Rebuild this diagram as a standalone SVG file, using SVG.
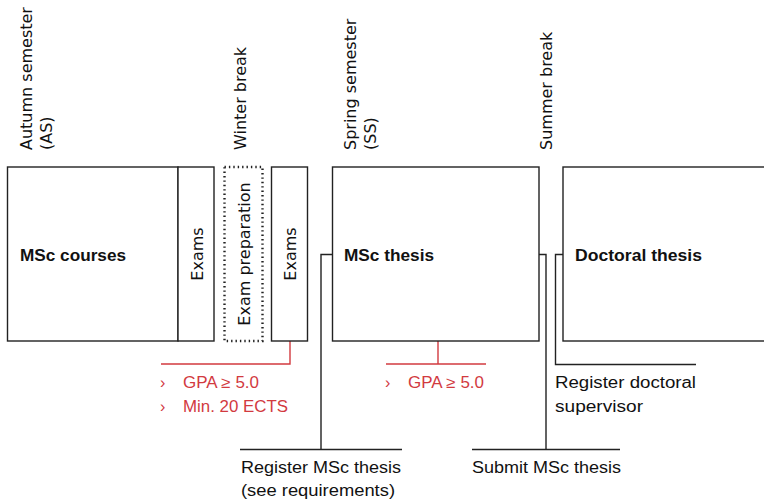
<svg xmlns="http://www.w3.org/2000/svg" width="764" height="501" viewBox="0 0 764 501">
<style>
.box{fill:#fff;stroke:#222;stroke-width:1.4}
.dot{fill:#fff;stroke:#222;stroke-width:2.4;stroke-dasharray:1.4 3}
.ln{fill:none;stroke:#222;stroke-width:1.4}
.rl{fill:none;stroke:#d23a3f;stroke-width:1.4}
.vt{font-family:"DejaVu Sans",sans-serif;font-size:16px;fill:#111}
.bt{font-family:"Liberation Sans",Arial,sans-serif;font-size:17px;font-weight:bold;fill:#111}
.lb{font-family:"Liberation Sans",Arial,sans-serif;font-size:16px;fill:#111}
.rd{font-family:"Liberation Sans",Arial,sans-serif;font-size:16px;fill:#d23a3f}
</style>
<g id="labels-top">
<text class="vt" transform="translate(32,150) rotate(-90)">Autumn semester</text>
<text class="vt" transform="translate(52,150) rotate(-90)">(AS)</text>
<text class="vt" transform="translate(246,150) rotate(-90)">Winter break</text>
<text class="vt" transform="translate(356,150) rotate(-90)">Spring semester</text>
<text class="vt" transform="translate(376,150) rotate(-90)">(SS)</text>
<text class="vt" transform="translate(552,150) rotate(-90)">Summer break</text>
</g>
<g id="connectors">
<polyline class="ln" points="332,254.5 321,254.5 321,449.5"/>
<line class="ln" x1="240" y1="449.5" x2="402" y2="449.5"/>
<polyline class="ln" points="539,254.5 546,254.5 546,449.5"/>
<line class="ln" x1="472" y1="449.5" x2="620" y2="449.5"/>
<polyline class="ln" points="563,254.5 555.5,254.5 555.5,364.5 696,364.5"/>
<polyline class="rl" points="290,341 290,364 161,364"/>
<line class="rl" x1="438" y1="341" x2="438" y2="364"/>
<line class="rl" x1="386" y1="364" x2="486" y2="364"/>
</g>
<g id="msc-courses">
<rect class="box" x="7.5" y="167" width="170.5" height="174"/>
<text class="bt" x="20" y="261" textLength="106" lengthAdjust="spacingAndGlyphs">MSc courses</text>
</g>
<g id="exams-1">
<rect class="box" x="178" y="167" width="36" height="174"/>
<text class="vt" text-anchor="middle" transform="translate(202.5,254) rotate(-90)">Exams</text>
</g>
<g id="exam-preparation">
<rect class="dot" x="224.5" y="167" width="38" height="174"/>
<text class="vt" text-anchor="middle" transform="translate(249.5,254) rotate(-90)">Exam preparation</text>
</g>
<g id="exams-2">
<rect class="box" x="271.5" y="167" width="36" height="174"/>
<text class="vt" text-anchor="middle" transform="translate(296,254) rotate(-90)">Exams</text>
</g>
<g id="msc-thesis">
<rect class="box" x="332.5" y="167" width="206.5" height="174"/>
<text class="bt" x="344" y="261" textLength="90" lengthAdjust="spacingAndGlyphs">MSc thesis</text>
</g>
<g id="doctoral-thesis">
<rect class="box" x="563" y="167" width="210" height="174"/>
<text class="bt" x="575" y="261" textLength="127" lengthAdjust="spacingAndGlyphs">Doctoral thesis</text>
</g>
<g id="req-1">
<text class="rd" x="160" y="388">›</text>
<text class="rd" x="183" y="388" textLength="76" lengthAdjust="spacingAndGlyphs">GPA ≥ 5.0</text>
<text class="rd" x="160" y="412">›</text>
<text class="rd" x="183" y="412" textLength="105" lengthAdjust="spacingAndGlyphs">Min. 20 ECTS</text>
</g>
<g id="req-2">
<text class="rd" x="385" y="388">›</text>
<text class="rd" x="408" y="388" textLength="76" lengthAdjust="spacingAndGlyphs">GPA ≥ 5.0</text>
</g>
<g id="register-thesis">
<text class="lb" x="241" y="473" textLength="160" lengthAdjust="spacingAndGlyphs">Register MSc thesis</text>
<text class="lb" x="241" y="496" textLength="154" lengthAdjust="spacingAndGlyphs">(see requirements)</text>
</g>
<g id="submit-thesis">
<text class="lb" x="472" y="473" textLength="149" lengthAdjust="spacingAndGlyphs">Submit MSc thesis</text>
</g>
<g id="register-supervisor">
<text class="lb" x="555" y="388" textLength="141" lengthAdjust="spacingAndGlyphs">Register doctoral</text>
<text class="lb" x="555" y="412" textLength="88" lengthAdjust="spacingAndGlyphs">supervisor</text>
</g>
</svg>
